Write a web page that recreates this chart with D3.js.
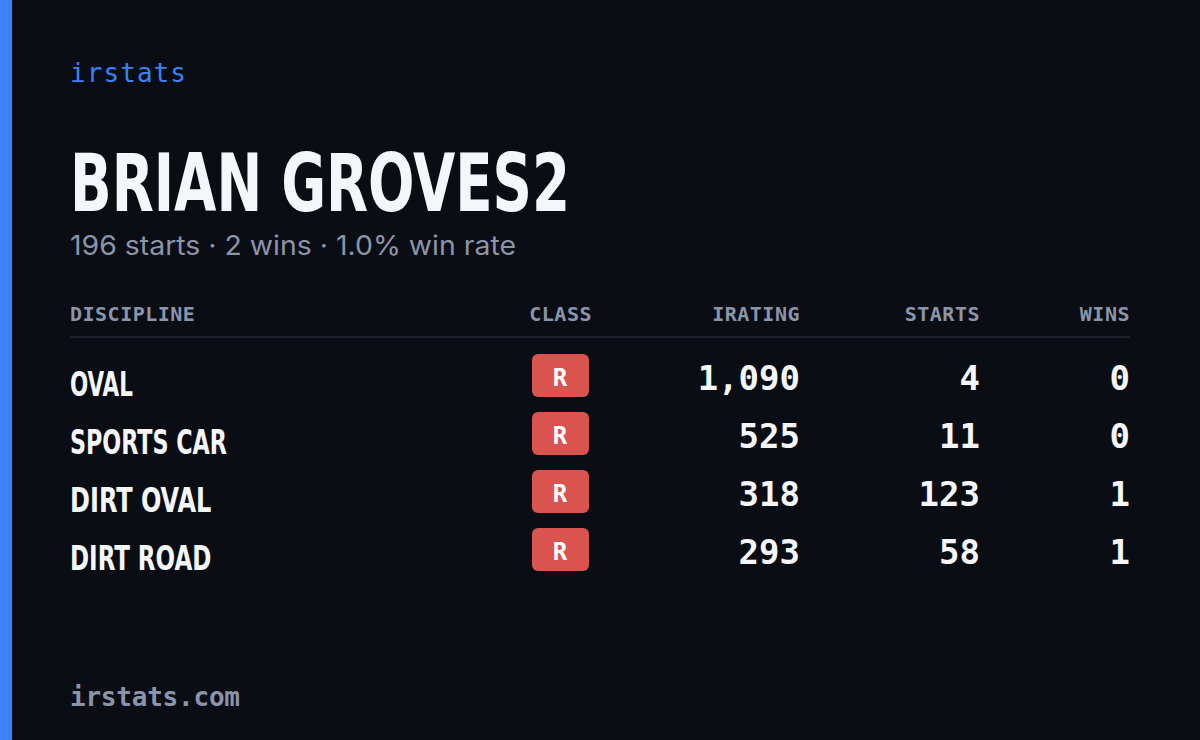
<!DOCTYPE html>
<html><head><meta charset="utf-8">
<script src="https://cdn.jsdelivr.net/npm/d3@7/dist/d3.min.js"></script>
<style>body{margin:0;background:#0a0d14}</style>
</head><body><svg id="c" width="1200" height="740"></svg>
<script>
const disciplines = ["OVAL","SPORTS CAR","DIRT OVAL","DIRT ROAD"];
const classes = ["R","R","R","R"];
const iratings = [1090,525,318,293];
const starts = [4,11,123,58];
const wins = [0,0,1,1];
const headers = ["DISCIPLINE","CLASS","IRATING","STARTS","WINS"];

const svg = d3.select("#c");
svg.append("rect").attr("width",1200).attr("height",740).attr("fill","#0a0d14");
svg.append("rect").attr("width",12).attr("height",740).attr("fill","#3b82f6");
const mono = "'DejaVu Sans Mono', monospace";
const cond = "'Liberation Sans Narrow','DejaVu Sans Condensed',sans-serif";
svg.append("text").attr("x",70).attr("y",82).attr("fill","#3b82f6").attr("font-family",mono).attr("font-size",26).attr("textLength",116).text("irstats");
svg.append("text").attr("x",70).attr("y",211).attr("fill","#f5f6fa").attr("font-family",cond).attr("font-weight","bold").attr("font-size",80).attr("textLength",500).attr("lengthAdjust","spacingAndGlyphs").text("BRIAN GROVES2");
const tS=d3.sum(starts), tW=d3.sum(wins);
svg.append("text").attr("x",70).attr("y",255).attr("fill","#8b95aa").attr("font-family","Inter, sans-serif").attr("font-size",27)
 .attr("textLength",446).attr("lengthAdjust","spacingAndGlyphs")
 .text(`${tS} starts · ${tW} wins · ${(tW/tS*100).toFixed(1)}% win rate`);

const colX = [70,592,800,980,1130];
const anchors = ["start","end","end","end","end"];
svg.selectAll("text.h").data(headers).join("text").attr("class","h")
 .attr("x",(d,i)=>colX[i]).attr("y",321).attr("text-anchor",(d,i)=>anchors[i])
 .attr("fill","#8b95aa").attr("font-family",mono).attr("font-weight","bold").attr("font-size",20).attr("letter-spacing",0.5).text(d=>d);
svg.append("line").attr("x1",70).attr("x2",1130).attr("y1",337).attr("y2",337).attr("stroke","#1e2330").attr("stroke-width",2);

const y = d3.scaleBand().domain(d3.range(disciplines.length)).range([348,580]);
const rows = svg.selectAll("g.r").data(disciplines).join("g").attr("class","r")
 .attr("transform",(d,i)=>`translate(0,${y(i)})`);
rows.append("text").attr("x",70).attr("y",48).attr("fill","#f5f6fa").attr("font-family",cond).attr("font-weight","bold").attr("font-size",34)
 .attr("textLength",d=>d.length*15.7).attr("lengthAdjust","spacingAndGlyphs").text(d=>d);
rows.append("rect").attr("x",532).attr("y",6).attr("width",57).attr("height",43).attr("rx",6).attr("fill","#d9534f");
rows.append("text").attr("x",560).attr("y",38).attr("text-anchor","middle").attr("fill","#fff").attr("font-family",mono).attr("font-weight","bold").attr("font-size",24).text((d,i)=>classes[i]);
const fmt = d3.format(",");
[[iratings,800],[starts,980],[wins,1130]].forEach(([arr,x])=>{
 rows.append("text").attr("x",x).attr("y",42).attr("text-anchor","end").attr("fill","#f5f6fa").attr("font-family",mono).attr("font-weight","bold").attr("font-size",34).text((d,i)=>fmt(arr[i]));
});
svg.append("text").attr("x",70).attr("y",706).attr("fill","#8b95aa").attr("font-family",mono).attr("font-weight","bold").attr("font-size",26).attr("textLength",170).text("irstats.com");
</script></body></html>
